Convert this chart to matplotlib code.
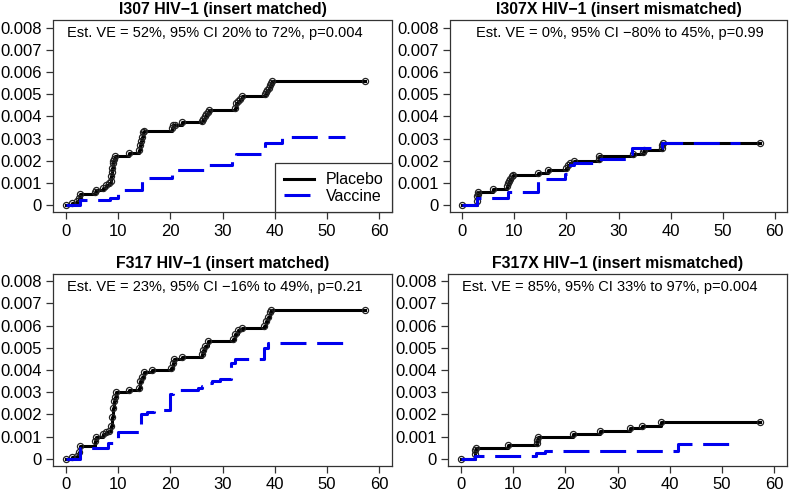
import matplotlib
matplotlib.use("Agg")
import matplotlib.pyplot as plt
from matplotlib.lines import Line2D

plt.rcParams['font.family'] = ['Liberation Sans', 'DejaVu Sans']

# panel titles and annotations
titles = ["I307 HIV\u22121 (insert matched)", "I307X HIV\u22121 (insert mismatched)",
          "F317 HIV\u22121 (insert matched)", "F317X HIV\u22121 (insert mismatched)"]
notes = ["Est. VE = 52%, 95% CI 20% to 72%, p=0.004",
         "Est. VE = 0%, 95% CI \u221280% to 45%, p=0.99",
         "Est. VE = 23%, 95% CI \u221216% to 49%, p=0.21",
         "Est. VE = 85%, 95% CI 33% to 97%, p=0.004"]

xticks = [0, 10, 20, 30, 40, 50, 60]
yticks = [0, 0.001, 0.002, 0.003, 0.004, 0.005, 0.006, 0.007, 0.008]
ytick_labels = ["0", "0.001", "0.002", "0.003", "0.004", "0.005", "0.006", "0.007", "0.008"]

# I307 (top left)
p1_t = [0, 1.3, 2.2, 2.6, 2.8, 5.7, 5.9, 7.2, 7.8, 8.3, 8.6, 8.7, 8.8, 8.9, 9.0, 9.1, 9.2, 9.4,
        12.2, 14.0, 14.2, 14.4, 14.6, 14.8, 14.9, 20.3, 20.6, 20.9, 22.3, 26.0, 26.3, 26.6, 26.9,
        27.2, 27.5, 32.3, 32.5, 33.0, 33.4, 33.8, 38.1, 38.4, 38.6, 38.8, 39.0, 39.2, 39.4, 57.3]
p1_y = [0, 0.00012, 0.00018, 0.00035, 0.0005, 0.0006, 0.0007, 0.0008, 0.0009, 0.001, 0.0011,
        0.0013, 0.0015, 0.0017, 0.0019, 0.002, 0.0021, 0.0022, 0.00235, 0.0025, 0.0027, 0.0029,
        0.0031, 0.0033, 0.00335, 0.0035, 0.0036, 0.0036, 0.00373, 0.0038, 0.0039, 0.004, 0.0041,
        0.0042, 0.00428, 0.0044, 0.0046, 0.0047, 0.0048, 0.0049, 0.005, 0.0051, 0.0052, 0.0053,
        0.0054, 0.0055, 0.0056, 0.0056]
v1_t = [0, 2.7, 8.4, 10.0, 14.7, 16.0, 20.3, 20.8, 27.4, 31.8, 32.5, 38.1, 41.3, 53.4]
v1_y = [0, 0.00023, 0.00035, 0.0007, 0.0011, 0.00123, 0.0014, 0.0016, 0.0018, 0.0021, 0.0023,
        0.0028, 0.0031, 0.0031]

# I307X (top right)
p2_t = [0, 2.75, 2.8, 2.9, 3.0, 5.8, 8.5, 8.8, 9.0, 9.2, 9.5, 9.8, 14.6, 16.5, 20.0, 20.3, 20.7,
        21.5, 26.2, 26.3, 32.8, 34.7, 34.9, 38.3, 38.4, 38.5, 57.3]
p2_y = [0, 0.0002, 0.0004, 0.0005, 0.0006, 0.00072, 0.00085, 0.001, 0.0011, 0.0012, 0.0013,
        0.00135, 0.00145, 0.0016, 0.0017, 0.0018, 0.0019, 0.002, 0.0021, 0.0022, 0.0023, 0.0024,
        0.0025, 0.0026, 0.0027, 0.0028, 0.0028]
v2_t = [0, 2.7, 8.7, 14.6, 19.8, 20.3, 21.5, 26.0, 32.0, 32.5, 38.3, 53.4]
v2_y = [0, 0.00035, 0.00058, 0.0012, 0.0014, 0.0018, 0.0019, 0.0021, 0.0023, 0.0026, 0.0028,
        0.0028]

# F317 (bottom left)
p3_t = [0, 1.3, 2.2, 2.5, 2.8, 5.7, 5.9, 7.2, 7.8, 8.3, 8.6, 8.8, 9.0, 9.2, 9.4, 9.6, 12.2, 14.0,
        14.3, 14.6, 14.9, 16.5, 20.2, 20.5, 20.8, 22.3, 26.0, 26.2, 26.6, 27.2, 32.0, 32.4, 33.0,
        33.7, 38.0, 38.3, 38.7, 39.0, 39.3, 57.3]
p3_y = [0, 0.0001, 0.00015, 0.0003, 0.0006, 0.0008, 0.001, 0.0011, 0.0012, 0.00125, 0.0015,
        0.0019, 0.0023, 0.0026, 0.0028, 0.003, 0.0031, 0.0032, 0.0035, 0.0037, 0.0039, 0.004,
        0.0041, 0.0043, 0.0045, 0.0046, 0.0047, 0.0049, 0.0051, 0.0053, 0.0054, 0.0056, 0.0058,
        0.0059, 0.006, 0.0062, 0.0064, 0.0066, 0.0067, 0.0067]
v3_t = [0, 2.7, 8.2, 9.0, 10.0, 14.4, 15.5, 17.0, 20.0, 20.5, 25.3, 26.0, 27.0, 28.0, 29.5, 31.7,
        32.3, 38.0, 38.7, 53.3]
v3_y = [0, 0.0005, 0.0007, 0.0009, 0.00123, 0.002, 0.0021, 0.0022, 0.0029, 0.0031, 0.0032,
        0.0033, 0.0034, 0.0035, 0.0036, 0.0043, 0.0045, 0.005, 0.0052, 0.0052]

# F317X (bottom right)
p4_t = [0, 2.75, 2.85, 3.0, 9.0, 14.6, 14.7, 14.8, 21.5, 26.7, 32.4, 34.6, 38.3, 57.3]
p4_y = [0, 0.0002, 0.0004, 0.0005, 0.00062, 0.0007, 0.00085, 0.001, 0.00112, 0.00125, 0.0014,
        0.0015, 0.00164, 0.00164]
v4_t = [0, 2.7, 14.5, 16.2, 41.6, 53.0]
v4_y = [0, 0.00012, 0.00025, 0.00035, 0.00066, 0.00066]

placebo = [(p1_t, p1_y), (p2_t, p2_y), (p3_t, p3_y), (p4_t, p4_y)]
vaccine = [(v1_t, v1_y), (v2_t, v2_y), (v3_t, v3_y), (v4_t, v4_y)]

W, H = 790, 491
fig = plt.figure(figsize=(W / 100, H / 100), dpi=100)
# axes boxes in pixels: left, right, top, bottom
boxes = [(53, 392, 20.5, 212.5), (450, 787, 20.5, 212.5),
         (53, 392, 274, 466), (448, 787, 274, 466)]
note_x = [0.478, 0.504, 0.478, 0.478]

blue = '#0000ee'
dash = (8.5, 3.5)
frame_col = '#333333'
for i, (l, r, t, b) in enumerate(boxes):
    ax = fig.add_axes([l / W, 1 - b / H, (r - l) / W, (b - t) / H])
    pt, py = placebo[i]
    ax.plot(pt, py, drawstyle='steps-post', color='black', lw=2.2, zorder=2)
    ax.plot(pt, py, ls='none', marker='o', ms=4.4, mfc='none', mec='#222222',
            mew=0.9, zorder=3)
    vt, vy = vaccine[i]
    ax.plot(vt, vy, drawstyle='steps-post', color=blue, lw=2.2,
            dashes=dash, dash_capstyle='butt', zorder=4)
    ax.set_xlim(-2.4, 62.4)
    ax.set_ylim(-0.00032, 0.00832)
    ax.set_xticks(xticks)
    ax.set_xticklabels([str(v) for v in xticks])
    ax.set_yticks(yticks)
    ax.set_yticklabels(ytick_labels)
    ax.tick_params(labelsize=12, length=5, width=0.9, color=frame_col, pad=3)
    for s in ax.spines.values():
        s.set_color(frame_col)
        s.set_linewidth(0.9)
    ax.set_title(titles[i], fontsize=11.4, fontweight='bold', pad=4.5)
    ax.text(note_x[i], 0.933, notes[i], transform=ax.transAxes, ha='center',
            va='center', fontsize=10.5)
    if i == 0:
        handles = [Line2D([], [], color='black', lw=2.2),
                   Line2D([], [], color=blue, lw=2.2, dashes=dash)]
        leg = ax.legend(handles, ["Placebo", "Vaccine"], loc='lower right',
                        bbox_to_anchor=(1, 0), borderaxespad=0, fancybox=False,
                        framealpha=1, edgecolor=frame_col, fontsize=11.5,
                        handlelength=1.9, handletextpad=0.7, borderpad=0.55,
                        labelspacing=0.1)
        leg.get_frame().set_linewidth(0.9)

fig.savefig("out.png", dpi=100)
